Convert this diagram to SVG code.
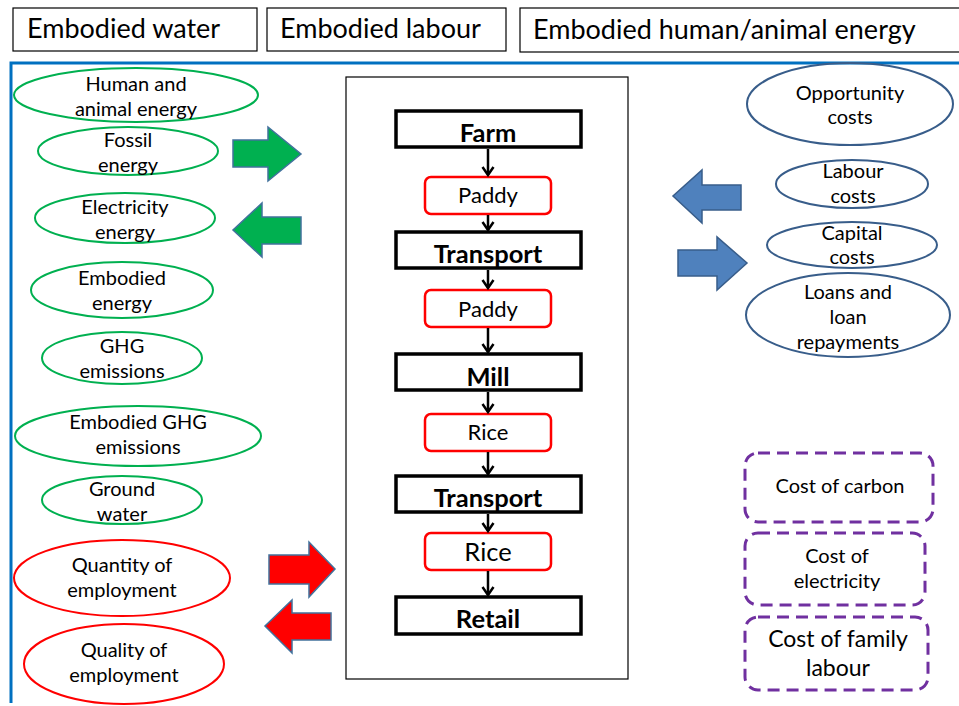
<svg xmlns="http://www.w3.org/2000/svg" width="959" height="706" viewBox="0 0 959 706">
<style>
text{font-family:Lato,"Liberation Sans",sans-serif;fill:#000;text-anchor:middle}
.top{font-size:27px;text-anchor:start}
.el{font-size:20px}
.bl{font-size:20px}
.stage{font-size:25.5px;font-weight:bold}
.prod{font-size:22px}
.g{fill:none;stroke:#00B050;stroke-width:2}
.r{fill:none;stroke:#FF0000;stroke-width:2}
.b{fill:none;stroke:#385D8A;stroke-width:2}
.sb{fill:#fff;stroke:#000;stroke-width:3.5}
.pb{fill:#fff;stroke:#FF0000;stroke-width:2.5}
.pu{fill:none;stroke:#7030A0;stroke-width:3;stroke-dasharray:12 7}
.tb{fill:#fff;stroke:#000;stroke-width:1.2}
.ar{stroke:#41719C;stroke-width:1.5}
.cn{stroke:#000;stroke-width:2.5;fill:none;marker-end:url(#ah)}
</style>
<defs>
<marker id="ah" markerWidth="14" markerHeight="14" refX="11" refY="7" orient="auto" markerUnits="userSpaceOnUse" viewBox="0 0 14 14">
<path d="M3,1.5 L11,7 L3,12.5" fill="none" stroke="#000" stroke-width="2.5"/>
</marker>
</defs>
<rect width="959" height="706" fill="#fff"/>
<g id="top-water"><rect class="tb" x="13" y="8" width="244" height="43"/><text class="top" x="27" y="38">Embodied water</text></g>
<g id="top-labour"><rect class="tb" x="267" y="8" width="239" height="43"/><text class="top" x="280" y="38">Embodied labour</text></g>
<g id="top-energy"><rect class="tb" x="520" y="8" width="445" height="44"/><text class="top" x="533" y="39">Embodied human/animal energy</text></g>
<path id="frame" d="M11,703 V63 H959" fill="none" stroke="#0070C0" stroke-width="3"/>
<rect id="chain-frame" x="346" y="77" width="282" height="602" fill="#fff" stroke="#000" stroke-width="1.2"/>
<g id="n-human"><ellipse class="g" cx="136" cy="95" rx="122" ry="27"/><text class="el" x="136" y="91">Human and</text><text class="el" x="136" y="116">animal energy</text></g>
<g id="n-fossil"><ellipse class="g" cx="128" cy="151" rx="90" ry="24"/><text class="el" x="128" y="147">Fossil</text><text class="el" x="128" y="172">energy</text></g>
<g id="n-electricity"><ellipse class="g" cx="125" cy="218" rx="90" ry="25"/><text class="el" x="125" y="214">Electricity</text><text class="el" x="125" y="239">energy</text></g>
<g id="n-embodied-energy"><ellipse class="g" cx="122" cy="290" rx="91" ry="28"/><text class="el" x="122" y="285">Embodied</text><text class="el" x="122" y="310">energy</text></g>
<g id="n-ghg"><ellipse class="g" cx="122" cy="358" rx="80" ry="26"/><text class="el" x="122" y="353">GHG</text><text class="el" x="122" y="378">emissions</text></g>
<g id="n-embodied-ghg"><ellipse class="g" cx="138" cy="436" rx="123" ry="30"/><text class="el" x="138" y="429">Embodied GHG</text><text class="el" x="138" y="454">emissions</text></g>
<g id="n-ground"><ellipse class="g" cx="122" cy="500" rx="80" ry="24"/><text class="el" x="122" y="496">Ground</text><text class="el" x="122" y="521">water</text></g>
<g id="n-quantity"><ellipse class="r" cx="122" cy="578" rx="108" ry="38"/><text class="el" x="122" y="572">Quantity of</text><text class="el" x="122" y="597">employment</text></g>
<g id="n-quality"><ellipse class="r" cx="124" cy="664" rx="100" ry="40"/><text class="el" x="124" y="657">Quality of</text><text class="el" x="124" y="682">employment</text></g>
<g id="n-opportunity"><ellipse class="b" cx="850" cy="104" rx="103" ry="41"/><text class="bl" x="850" y="100">Opportunity</text><text class="bl" x="850" y="124">costs</text></g>
<g id="n-labour"><ellipse class="b" cx="852" cy="184" rx="76" ry="24"/><text class="bl" x="853" y="178">Labour</text><text class="bl" x="853" y="203">costs</text></g>
<g id="n-capital"><ellipse class="b" cx="852" cy="245" rx="85" ry="23"/><text class="bl" x="852" y="240">Capital</text><text class="bl" x="852" y="264">costs</text></g>
<g id="n-loans"><ellipse class="b" cx="848" cy="315" rx="102" ry="42"/><text class="bl" x="848" y="299">Loans and</text><text class="bl" x="848" y="324">loan</text><text class="bl" x="848" y="349">repayments</text></g>
<g id="n-carbon"><rect class="pu" x="745" y="453" width="188" height="69" rx="13"/><text class="bl" x="840" y="493">Cost of carbon</text></g>
<g id="n-cost-electricity"><rect class="pu" x="745" y="533" width="180" height="72" rx="13"/><text class="bl" x="837" y="563">Cost of</text><text class="bl" x="837" y="588">electricity</text></g>
<g id="n-family"><rect class="pu" x="745" y="617" width="183" height="73" rx="13"/><text style="font-size:23px" x="838" y="647">Cost of family</text><text style="font-size:23px" x="838" y="676">labour</text></g>
<g id="s-farm"><rect class="sb" x="396" y="111" width="185" height="36"/><text class="stage" x="488" y="142">Farm</text></g>
<g id="p-paddy1"><rect class="pb" x="425" y="177" width="126" height="37" rx="6"/><text class="prod" x="488" y="203">Paddy</text></g>
<g id="s-transport1"><rect class="sb" x="396" y="232" width="185" height="36"/><text class="stage" x="488" y="263">Transport</text></g>
<g id="p-paddy2"><rect class="pb" x="425" y="290" width="126" height="37" rx="6"/><text class="prod" x="488" y="317">Paddy</text></g>
<g id="s-mill"><rect class="sb" x="396" y="354" width="185" height="36"/><text class="stage" x="488" y="386">Mill</text></g>
<g id="p-rice1"><rect class="pb" x="425" y="414" width="126" height="37" rx="6"/><text class="prod" x="488" y="440">Rice</text></g>
<g id="s-transport2"><rect class="sb" x="396" y="476" width="185" height="36"/><text class="stage" x="488" y="507">Transport</text></g>
<g id="p-rice2"><rect class="pb" x="425" y="533" width="126" height="37" rx="6"/><text class="prod" style="font-size:25.5px" x="488" y="561">Rice</text></g>
<g id="s-retail"><rect class="sb" x="396" y="597" width="185" height="37"/><text class="stage" x="488" y="628">Retail</text></g>
<g id="connectors">
<line class="cn" x1="488" y1="149" x2="488" y2="175"/>
<line class="cn" x1="488" y1="215" x2="488" y2="230"/>
<line class="cn" x1="488" y1="270" x2="488" y2="288"/>
<line class="cn" x1="488" y1="328" x2="488" y2="352"/>
<line class="cn" x1="488" y1="392" x2="488" y2="412"/>
<line class="cn" x1="488" y1="452" x2="488" y2="474"/>
<line class="cn" x1="488" y1="514" x2="488" y2="531"/>
<line class="cn" x1="488" y1="571" x2="488" y2="595"/>
<path class="ar" fill="#00B050" d="M233,140 H268 V127 L301,154 L268,181 V167 H233 Z"/>
<path class="ar" fill="#00B050" d="M301,217 H262 V203 L233,230 L262,257 V244 H301 Z"/>
<path class="ar" fill="#FF0000" d="M269,555 H309 V542 L335,569 L309,597 V584 H269 Z"/>
<path class="ar" fill="#FF0000" d="M331,613 H292 V600 L265,626 L292,653 V640 H331 Z"/>
<path fill="#4F81BD" stroke="#385D8A" stroke-width="1.5" d="M741,185 H702 V170 L673,196 L702,223 V210 H741 Z"/>
<path fill="#4F81BD" stroke="#385D8A" stroke-width="1.5" d="M678,250 H717 V237 L747,263 L717,290 V276 H678 Z"/>
</g>
</svg>
